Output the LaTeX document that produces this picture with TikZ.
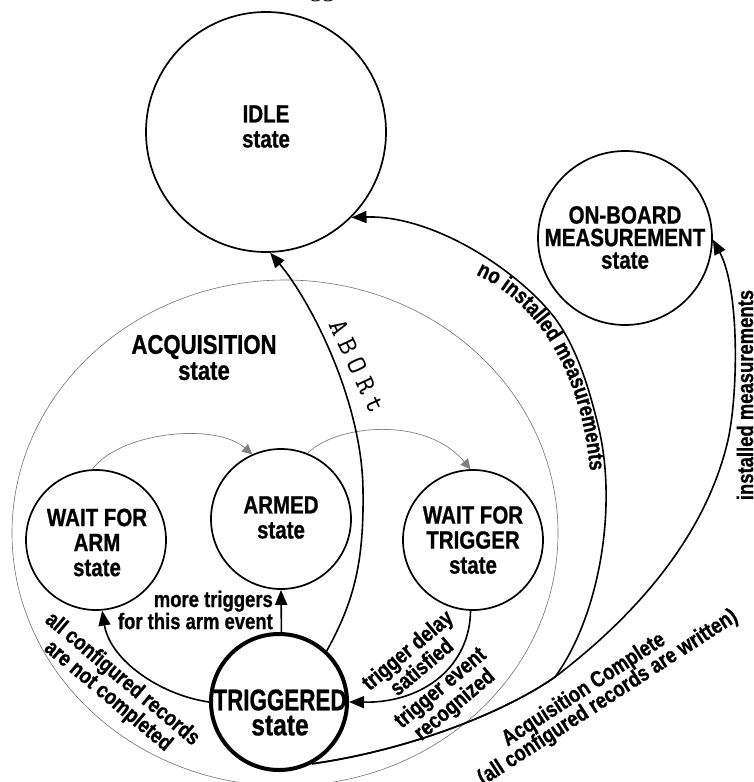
\documentclass[tikz,border=0pt]{standalone}
\usepackage{fontspec}
\usetikzlibrary{arrows.meta,shapes.geometric,decorations.text}
\newfontfamily\condf{Liberation Sans}[FakeStretch=0.82, BoldFeatures={FakeBold=0.8}]
\newfontfamily\monof{lmmono10-regular.otf}[LetterSpace=24]
\newfontfamily\seriff{Liberation Serif}
\newcommand\lblf{\condf\bfseries\fontsize{22.5}{21}\selectfont}
\definecolor{arrgray}{gray}{0.5}
\definecolor{ellgray}{gray}{0.45}
\begin{document}
\begin{tikzpicture}[x=1pt,y=-1pt,
  st/.style={circle, draw, line width=1.7pt, inner sep=0pt},
  title/.style={font=\condf\bfseries\fontsize{25}{25}\selectfont, align=center, inner sep=0pt},
  lbl/.style={font=\lblf, align=center, inner sep=0pt},
  conn/.style={line width=1.6pt, -{Triangle[length=15pt,width=12pt]}},
  gconn/.style={draw=arrgray, line width=0.7pt, -{Triangle[length=10pt,width=10pt]}},
]
\useasboundingbox (0,0) rectangle (753,782);
\begin{scope}
\clip (0,0) rectangle (753,782);
\node[font=\seriff\fontsize{25}{25}\selectfont, anchor=base, inner sep=0pt] (cap) at (317,-3.5) {Trigger};
\end{scope}

% container
\node[ellipse, draw=ellgray, line width=0.6pt, minimum width=546pt, minimum height=506pt, inner sep=0pt] (acq) at (285,533) {};
\node[title, font=\condf\bfseries\fontsize{27}{26}\selectfont] (acqtxt) at (204,357.5) {ACQUISITION\\state};

% states
\node[st, minimum size=240pt] (idle) at (266,132) {};
\node[title] (idletxt) at (266,126.5) {IDLE\\state};

\node[st, minimum size=174pt] (onboard) at (625,238) {};
\node[title, font=\condf\bfseries\fontsize{25}{22.5}\selectfont] (obtxt) at (625,237.5) {ON-BOARD\\MEASUREMENT\\state};

\node[st, minimum size=140pt] (wfa) at (96,540) {};
\node[title] (wfatxt) at (97,542.5) {WAIT FOR\\ARM\\state};

\node[st, minimum size=140pt] (armed) at (281,519) {};
\node[title] (armedtxt) at (281,517.5) {ARMED\\state};

\node[st, minimum size=140pt] (wft) at (473,540) {};
\node[title] (wfttxt) at (473,540) {WAIT FOR\\TRIGGER\\state};

\node[st, line width=4pt, minimum size=136pt] (trig) at (279,702) {};
\node[title, font=\condf\bfseries\fontsize{30}{25}\selectfont] (trigtxt) at (280,712.5) {\scalebox{0.91}[1]{TRIGGERED}\\state};

\coordinate (merge) at (555,677);

% gray transitions inside acquisition
\draw[gconn] (wfa.93) .. controls (120,432) and (215,422) .. (armed.114);
\draw[gconn] (armed.68) .. controls (335,425) and (425,415) .. (wft.92);

% black transitions
\draw[conn] (trig.88) -- (armed.south);
\draw[conn] (trig.180) .. controls (160,695) and (110,660) .. (wfa.-85);
\draw[conn] (wft.-92) .. controls (470,665) and (425,703) .. (trig.east);
\draw[conn] (trig.47) .. controls (355,600) and (364,560) .. (363,490)
   .. controls (362,400) and (310,300) .. (idle.-88);
\draw[conn] (trig.-62) .. controls (410,750) and (505,712) .. (merge)
   .. controls (600,615) and (618,505) .. (598,425)
   .. controls (591,397) and (578,345) .. (550,312)
   .. controls (510,265) and (430,215) .. (idle.-45);
\draw[conn] (trig.-62) .. controls (410,750) and (505,712) .. (merge)
   .. controls (630,620) and (705,540) .. (728,440)
   .. controls (738,395) and (740,290) .. (onboard.-1);

% labels
\node[lbl, align=right, anchor=east] (moretxt) at (273,610) {more triggers\\for this arm event};
\node[lbl, rotate=-40] (allcfg) at (115,688) {all configured records\\are not completed};
\node[lbl, rotate=40] (tdelay) at (414,658) {trigger delay\\satisfied};
\node[lbl, rotate=40] (tevent) at (448,697) {trigger event\\recognized};
\node[lbl, rotate=33] (acqc1) at (584,690) {Acquisition Complete};
\node[lbl, rotate=33] (acqc2) at (608,698) {(all configured records are written)};
\node[lbl, rotate=90] (instm) at (745,395) {installed measurements};
\node[font=\monof\fontsize{28}{28}\selectfont, rotate=-65, inner sep=0pt] (abort) at (357,366) {ABORt};
\path[decorate, decoration={text along path, text={|\lblf|no installed measurements}, text align=center}]
  (458,268) .. controls (532,290) and (587,372) .. (591,490);
\end{tikzpicture}
\end{document}
